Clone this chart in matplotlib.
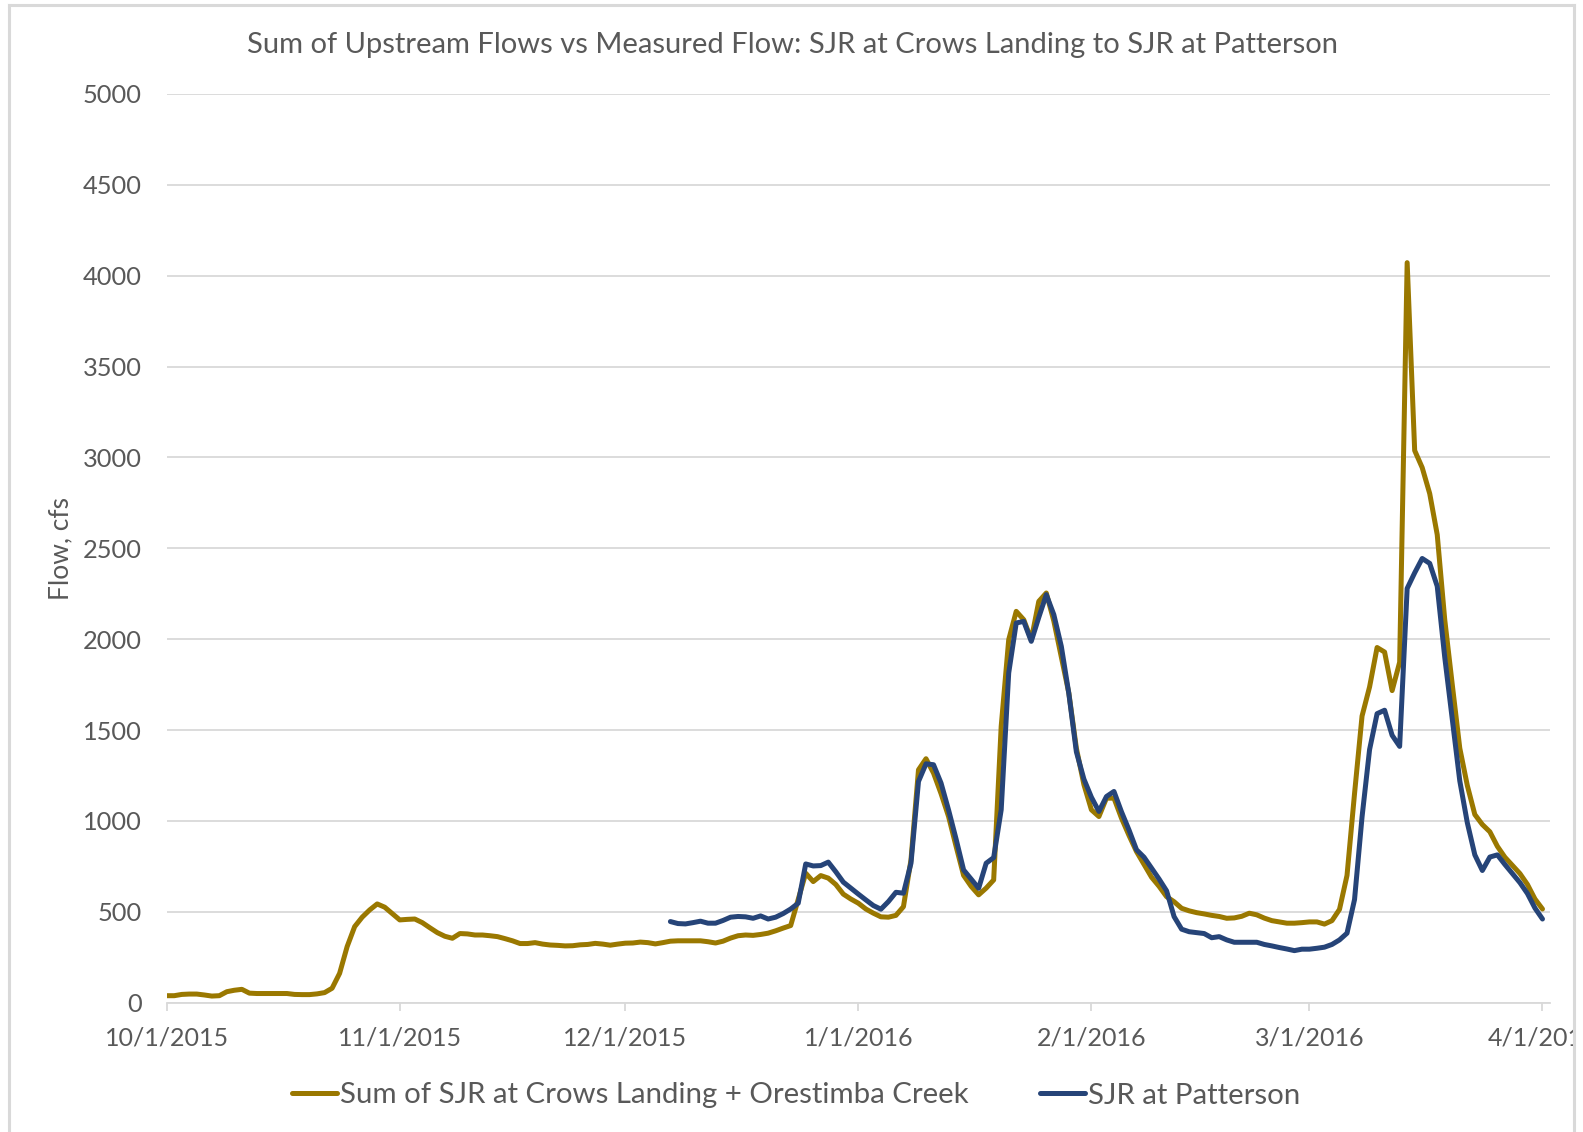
import matplotlib
matplotlib.use("Agg")
import matplotlib.pyplot as plt
import matplotlib.dates as mdates
from matplotlib.lines import Line2D
from matplotlib.patches import Rectangle
import pandas as pd

# Daily flows, cfs
upstream_start = "2015-10-01"
upstream_sum = [
    38, 38, 45, 47, 47, 42, 36, 38, 60, 68,
    73, 52, 50, 50, 50, 50, 50, 45, 44, 44,
    48, 55, 79, 161, 308, 418, 470, 510, 543, 525,
    490, 455, 458, 460, 440, 412, 385, 365, 354, 380,
    378, 372, 372, 368, 363, 352, 340, 325, 325, 330,
    322, 317, 315, 312, 313, 318, 320, 326, 322, 316,
    322, 327, 328, 333, 330, 323, 330, 338, 340, 340,
    340, 340, 335, 328, 338, 355, 368, 372, 370, 375,
    382, 395, 410, 424, 568, 712, 666, 699, 685, 650,
    597, 570, 547, 515, 492, 472, 470, 480, 528, 785,
    1281, 1342, 1263, 1150, 1024, 860, 700, 640, 593, 630,
    675, 1520, 1997, 2153, 2107, 1997, 2208, 2254, 2100, 1900,
    1703, 1400, 1200, 1061, 1024, 1125, 1125, 1015, 920, 831,
    760, 690, 640, 583, 555, 519, 505, 495, 488, 480,
    474, 464, 466, 475, 492, 483, 465, 451, 444, 437,
    437, 440, 444, 444, 432, 451, 513, 700, 1150, 1577,
    1737, 1954, 1929, 1717, 1873, 4072, 3038, 2944, 2801, 2575,
    2107, 1750, 1400, 1195, 1035, 980, 940, 860, 800, 755,
    710, 650, 570, 515,
]

patterson_start = "2015-12-07"
patterson = [
    446, 435, 433, 440, 448, 437, 437, 452, 470, 474,
    472, 464, 477, 460, 470, 490, 515, 547, 763, 752,
    754, 773, 720, 663, 630, 597, 565, 534, 514, 556,
    607, 602, 767, 1217, 1314, 1309, 1208, 1060, 900, 730,
    680, 629, 767, 798, 1061, 1814, 2089, 2098, 1988, 2120,
    2245, 2135, 1960, 1700, 1380, 1230, 1130, 1052, 1134, 1162,
    1050, 950, 841, 800, 740, 680, 615, 473, 404, 390,
    385, 380, 357, 363, 345, 332, 332, 332, 332, 320,
    312, 303, 295, 286, 294, 294, 299, 305, 320, 345,
    382, 567, 1022, 1392, 1590, 1609, 1471, 1410, 2279, 2365,
    2444, 2417, 2291, 1900, 1560, 1220, 990, 813, 727, 801,
    813, 760, 710, 660, 600, 520, 460,
]

series_labels = ["Sum of SJR at Crows Landing + Orestimba Creek", "SJR at Patterson"]
title = "Sum of Upstream Flows vs Measured Flow: SJR at Crows Landing to SJR at Patterson"
y_label = "Flow, cfs"
y_ticks = [0, 500, 1000, 1500, 2000, 2500, 3000, 3500, 4000, 4500, 5000]
x_ticks = ["2015-10-01", "2015-11-01", "2015-12-01", "2016-01-01",
           "2016-02-01", "2016-03-01", "2016-04-01"]

gold = "#9a7800"
navy = "#264478"
text_col = "#595959"
grid_col = "#d9d9d9"
FONT = ["Lato", "DejaVu Sans"]

W, H = 1583, 1132
fig = plt.figure(figsize=(W / 100, H / 100), dpi=100)
plt.rcParams["font.family"] = FONT


def fx(px):
    return px / W


def fy(py):
    return 1 - py / H


left, right, top, bottom = 166.7, 1550.0, 94.0, 1002.6
ax = fig.add_axes([fx(left), fy(bottom), fx(right - left), (bottom - top) / H])

d_up = pd.date_range(upstream_start, periods=len(upstream_sum), freq="D")
d_pat = pd.date_range(patterson_start, periods=len(patterson), freq="D")

l1, = ax.plot(d_up, upstream_sum, color=gold, lw=3.6, solid_joinstyle="round",
              solid_capstyle="round", zorder=3)
l2, = ax.plot(d_pat, patterson, color=navy, lw=3.6, solid_joinstyle="round",
              solid_capstyle="round", zorder=4)

x0 = pd.Timestamp("2015-10-01")
ax.set_xlim(x0, x0 + pd.Timedelta(days=184))
ax.set_ylim(0, 5000)
ax.set_yticks(y_ticks)
ax.set_xticks(pd.to_datetime(x_ticks))
ax.xaxis.set_major_formatter(
    matplotlib.ticker.FuncFormatter(
        lambda v, p: (lambda d: f"{d.month}/{d.day}/{d.year}")(mdates.num2date(v))))

ax.grid(axis="y", color=grid_col, lw=1.3)
ax.set_axisbelow(True)
for s in ["top", "right", "left"]:
    ax.spines[s].set_visible(False)
ax.spines["bottom"].set_color(grid_col)
ax.spines["bottom"].set_linewidth(1.3)
ax.tick_params(axis="y", length=0, pad=18, labelsize=18.3, labelcolor=text_col)
ax.tick_params(axis="x", length=6, width=1.3, color=grid_col, pad=11,
               labelsize=18, labelcolor=text_col)

fig.text(fx(792), fy(44.5), title, ha="center", va="center", fontsize=21,
         color=text_col)
fig.text(fx(60.6), fy(548), y_label, ha="center", va="center", rotation=90,
         fontsize=19, color=text_col)

leg = ax.legend([l1, l2], series_labels, loc="center",
                bbox_to_anchor=(fx(796), fy(1095.5)), bbox_transform=fig.transFigure,
                ncol=2, frameon=False, fontsize=21.2, handlelength=1.55,
                handletextpad=0.1, columnspacing=2.4, labelcolor=text_col)

# mask beyond the chart frame, then draw the frame
fig.add_artist(Rectangle((fx(1575), 0), fx(W - 1575), 1, transform=fig.transFigure,
                         facecolor="white", edgecolor="none", zorder=20))
for xs, ys in [([9, 1574], [5, 5]), ([9, 9], [5, H]), ([1574, 1574], [5, H])]:
    fig.add_artist(Line2D([fx(v) for v in xs], [fy(v) for v in ys],
                          transform=fig.transFigure, color=grid_col, lw=2.2, zorder=21))

fig.savefig("out.png", dpi=100, facecolor="white")
